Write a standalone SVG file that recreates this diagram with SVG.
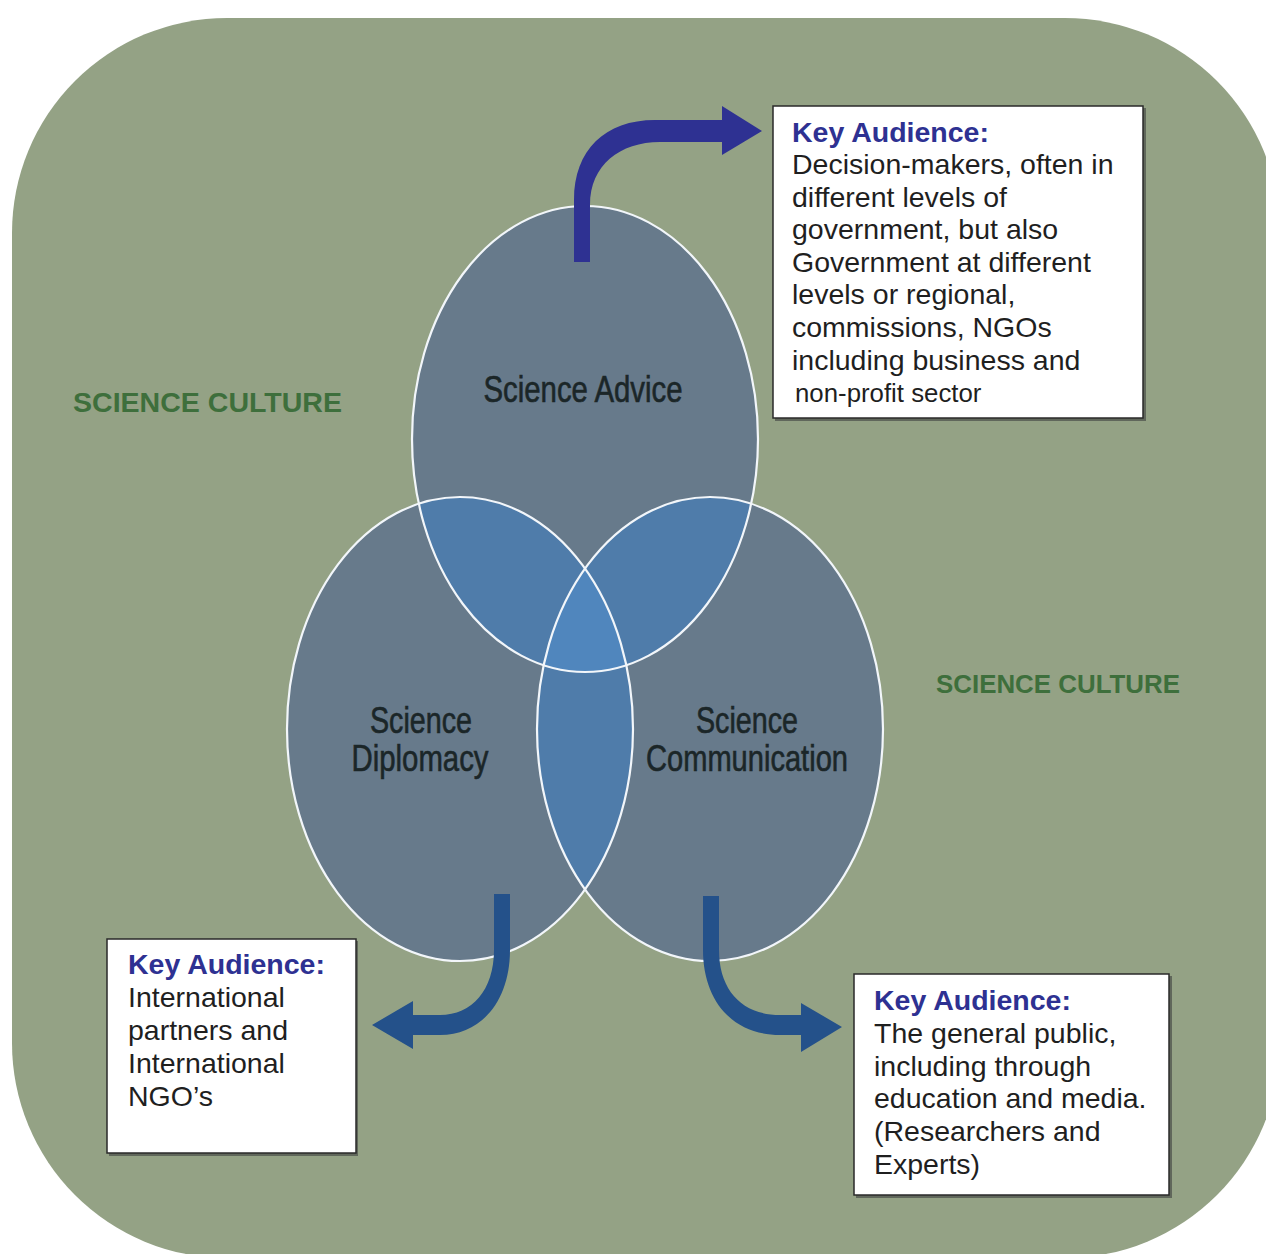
<svg xmlns="http://www.w3.org/2000/svg" width="1266" height="1254" viewBox="0 0 1266 1254">
  <style>
    .base { fill: #677a8b; }
    .pair { fill: #4f7caa; }
    .triple { fill: #5086bd; }
    .ring { fill: none; stroke: #f2f6fa; stroke-width: 2.2; }
    .clabel { font-family: "Liberation Sans", Arial, sans-serif; font-size: 36px; fill: #1b2628; stroke: #1b2628; stroke-width: 0.6; text-anchor: middle; }
    .culture { font-family: "Liberation Sans", Arial, sans-serif; font-weight: bold; fill: #3e6f3c; }
    .box { fill: #ffffff; stroke: #2a2a2a; stroke-width: 1.5; }
    .shadow { fill: #4a4f48; opacity: 0.7; }
    .kh { font-family: "Liberation Sans", Arial, sans-serif; font-weight: bold; font-size: 28.5px; fill: #2e3192; }
    .kt { font-family: "Liberation Sans", Arial, sans-serif; font-size: 28.5px; fill: #1f1f1f; }
    .kt.small { font-size: 25.8px; }
  </style>
  <defs>
    <clipPath id="clipA"><ellipse cx="585" cy="439" rx="173" ry="233"/></clipPath>
    <clipPath id="clipB"><ellipse cx="460" cy="729" rx="173" ry="232"/></clipPath>
    <clipPath id="clipC"><ellipse cx="710" cy="729" rx="173" ry="232"/></clipPath>
  </defs>

  <rect id="background" x="12" y="18" width="1268" height="1240" rx="215" ry="215" fill="#94a285"/>

  <text class="culture" x="73" y="412" font-size="28" textLength="269" lengthAdjust="spacingAndGlyphs">SCIENCE CULTURE</text>
  <text class="culture" x="936" y="693" font-size="26" textLength="244" lengthAdjust="spacingAndGlyphs">SCIENCE CULTURE</text>

  <g id="venn">
    <ellipse class="base" cx="585" cy="439" rx="173" ry="233"/>
    <ellipse class="base" cx="460" cy="729" rx="173" ry="232"/>
    <ellipse class="base" cx="710" cy="729" rx="173" ry="232"/>
    <g clip-path="url(#clipA)">
      <ellipse class="pair" cx="460" cy="729" rx="173" ry="232"/>
      <ellipse class="pair" cx="710" cy="729" rx="173" ry="232"/>
    </g>
    <g clip-path="url(#clipB)">
      <ellipse class="pair" cx="710" cy="729" rx="173" ry="232"/>
      <g clip-path="url(#clipA)">
        <ellipse class="triple" cx="710" cy="729" rx="173" ry="232"/>
      </g>
    </g>
    <ellipse class="ring" cx="585" cy="439" rx="173" ry="233"/>
    <ellipse class="ring" cx="460" cy="729" rx="173" ry="232"/>
    <ellipse class="ring" cx="710" cy="729" rx="173" ry="232"/>
  </g>

  <g id="node-advice">
    <text class="clabel" x="583" y="402" textLength="199" lengthAdjust="spacingAndGlyphs">Science Advice</text>
  </g>
  <g id="node-diplomacy">
    <text class="clabel" x="421" y="733" textLength="102" lengthAdjust="spacingAndGlyphs">Science</text>
    <text class="clabel" x="420" y="771" textLength="137" lengthAdjust="spacingAndGlyphs">Diplomacy</text>
  </g>
  <g id="node-communication">
    <text class="clabel" x="747" y="733" textLength="102" lengthAdjust="spacingAndGlyphs">Science</text>
    <text class="clabel" x="747" y="771" textLength="202" lengthAdjust="spacingAndGlyphs">Communication</text>
  </g>

  <g id="connectors">
    <path fill="#2e3192" d="M574,262 L574,200 C574,150 605,120 655,120 L722,120 L722,106 L762,131 L722,155 L722,142 L660,142 C620,142 590,165 590,205 L590,262 Z"/>
    <path fill="#24518a" d="M494,894 L510,894 L510,950 C510,1000 482,1035 440,1035 L413,1035 L413,1049 L372,1025 L413,1001 L413,1015 L440,1015 C472,1015 494,990 494,950 Z"/>
    <path fill="#24518a" d="M703,896 L719,896 L719,950 C719,990 742,1015 780,1015 L801,1015 L801,1003 L842,1027 L801,1052 L801,1035 L780,1035 C732,1035 703,1000 703,950 Z"/>
  </g>

  <g id="box-advice">
    <rect class="shadow" x="775" y="108" width="371" height="313"/>
    <rect class="box" x="773" y="106" width="370" height="312"/>
    <text class="kh" x="792" y="142">Key Audience:</text>
    <text class="kt" x="792" y="174">Decision-makers, often in</text>
    <text class="kt" x="792" y="207">different levels of</text>
    <text class="kt" x="792" y="239">government, but also</text>
    <text class="kt" x="792" y="272">Government at different</text>
    <text class="kt" x="792" y="304">levels or regional,</text>
    <text class="kt" x="792" y="337">commissions, NGOs</text>
    <text class="kt" x="792" y="370">including business and</text>
    <text class="kt small" x="795" y="402">non-profit sector</text>
  </g>

  <g id="box-diplomacy">
    <rect class="shadow" x="109" y="941" width="249" height="215"/>
    <rect class="box" x="107" y="939" width="249" height="214"/>
    <text class="kh" x="128" y="974">Key Audience:</text>
    <text class="kt" x="128" y="1007">International</text>
    <text class="kt" x="128" y="1040">partners and</text>
    <text class="kt" x="128" y="1073">International</text>
    <text class="kt" x="128" y="1106">NGO’s</text>
  </g>

  <g id="box-communication">
    <rect class="shadow" x="856" y="976" width="316" height="222"/>
    <rect class="box" x="854" y="974" width="315" height="221"/>
    <text class="kh" x="874" y="1010">Key Audience:</text>
    <text class="kt" x="874" y="1043">The general public,</text>
    <text class="kt" x="874" y="1076">including through</text>
    <text class="kt" x="874" y="1108">education and media.</text>
    <text class="kt" x="874" y="1141">(Researchers and</text>
    <text class="kt" x="874" y="1174">Experts)</text>
  </g>
</svg>
